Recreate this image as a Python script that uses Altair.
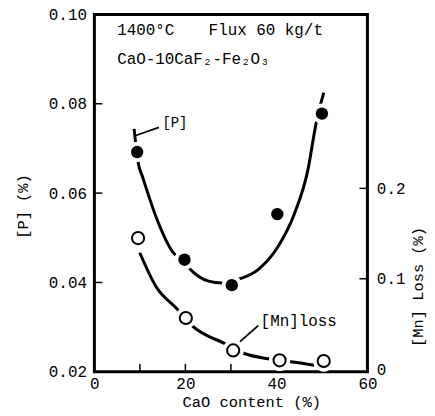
import altair as alt
import pandas as pd

FONT = "Liberation Mono"

# measured points
p_x = [9.4, 19.8, 30.2, 40.2, 50.0]
p_y = [0.0692, 0.0451, 0.0394, 0.0553, 0.0778]
mn_x = [9.6, 20.1, 30.5, 40.7, 50.4]
mn_y = [0.145, 0.0566, 0.0207, 0.0097, 0.009]

# fitted curves
p_curve_x = [8.73, 9.67, 10.6, 13.81, 17.24, 19.64, 20.73, 25.09, 28.0, 31.6, 36.0, 40.4, 44.0, 46.9, 48.7, 50.4]
p_curve_y = [0.0744, 0.0666, 0.0636, 0.0540, 0.0468, 0.0446, 0.0433, 0.0403, 0.0399, 0.0407, 0.0429, 0.0481, 0.0555, 0.0651, 0.0755, 0.0825]
mn_curve_x = [9.97, 13.46, 18.18, 21.45, 28.74, 33.1, 38.18, 43.6, 48.4]
mn_curve_y = [0.1288, 0.0921, 0.0665, 0.0481, 0.028, 0.017, 0.0115, 0.0079, 0.0042]

x_labels = [0, 20, 40, 60]
x_ticks = [10, 20, 30, 40, 50]
p_labels = [0.02, 0.04, 0.06, 0.08, 0.10]
p_ticks = [0.04, 0.06, 0.08]
mn_labels = [0, 0.1, 0.2]
mn_ticks = [0.1, 0.2]

W, H = 275, 360
TL = 8  # inward tick length

xs = alt.Scale(domain=[0, 60], nice=False, zero=False)
ps = alt.Scale(domain=[0.02, 0.10], nice=False, zero=False)
ms = alt.Scale(domain=[-0.003, 0.3925], nice=False, zero=False)

x_axis = alt.Axis(values=x_labels, labelFlush=False, labelPadding=4,
                  title="CaO content (%)", titleX=158, titleY=30,
                  titleBaseline="middle", titleAlign="center")
p_axis = alt.Axis(values=p_labels, format=".2f", labelPadding=8,
                  title="[P] (%)", titleX=-72, titleY=193,
                  titleAngle=-90, titleBaseline="middle", titleAlign="center")
mn_axis = alt.Axis(orient="right", values=mn_labels, labelPadding=9,
                   labelExpr="datum.value == 0 ? '0' : format(datum.value, '.1f')",
                   title="[Mn] Loss (%)", titleX=50, titleY=274,
                   titleAngle=-90, titleBaseline="middle", titleAlign="center")

X = alt.X("x:Q", scale=xs, axis=x_axis)
X2 = alt.X2("x2:Q")
YP = alt.Y("y:Q", scale=ps, axis=p_axis)
YM = alt.Y("y:Q", scale=ms, axis=mn_axis)

p_pts = pd.DataFrame({"x": p_x, "y": p_y})
mn_pts = pd.DataFrame({"x": mn_x, "y": mn_y})
p_curve = pd.DataFrame({"x": p_curve_x, "y": p_curve_y, "o": range(len(p_curve_x))})
mn_curve = pd.DataFrame({"x": mn_curve_x, "y": mn_curve_y, "o": range(len(mn_curve_x))})

# ---------- P group ----------
p_line = alt.Chart(p_curve).mark_line(color="black", strokeWidth=3, interpolate="monotone").encode(
    x=X, y=YP, order="o:Q")
p_halo = alt.Chart(p_pts).mark_circle(color="white", opacity=1, size=420).encode(x=X, y=YP)
p_mark = alt.Chart(p_pts).mark_circle(color="black", opacity=1, size=155).encode(x=X, y=YP)

hdr1 = pd.DataFrame({"x": [5.0], "y": [0.0964], "t": ["1400°C"]})
hdr2 = pd.DataFrame({"x": [25.1], "y": [0.0964], "t": ["Flux 60 kg/t"]})
hdr3 = pd.DataFrame({"x": [5.0], "y": [0.0900], "t": ["CaO-10CaF₂-Fe₂O₃"]})
plab = pd.DataFrame({"x": [17.7], "y": [0.0756], "t": ["[P]"]})


def txt(df, Y, size=16, align="left"):
    return alt.Chart(df).mark_text(font=FONT, fontSize=size, align=align, baseline="middle",
                                   color="black").encode(x=X, y=Y, text="t:N")


p_lead = pd.DataFrame({"x": [9.09], "y": [0.0729], "x2": [14.18], "y2": [0.0747]})
p_lead_m = alt.Chart(p_lead).mark_rule(color="black", strokeWidth=1.8).encode(
    x=X, y=YP, x2=X2, y2=alt.Y2("y2:Q"))

left_ticks = alt.Chart(pd.DataFrame({"y": p_ticks})).mark_rule(color="black", strokeWidth=1.5).encode(
    y=YP, x=alt.value(0), x2=alt.value(TL))
bottom_ticks = alt.Chart(pd.DataFrame({"x": x_ticks})).mark_rule(color="black", strokeWidth=1.5).encode(
    x=X, y=alt.value(H - TL), y2=alt.value(H))

p_group = alt.layer(p_line, p_halo, p_mark, txt(hdr1, YP), txt(hdr2, YP), txt(hdr3, YP),
                    txt(plab, YP, size=14, align="center"), p_lead_m, left_ticks, bottom_ticks)

# ---------- Mn group ----------
mn_line = alt.Chart(mn_curve).mark_line(color="black", strokeWidth=3, interpolate="monotone").encode(
    x=X, y=YM, order="o:Q")
mn_halo = alt.Chart(mn_pts).mark_circle(color="white", opacity=1, size=460).encode(x=X, y=YM)
mn_mark = alt.Chart(mn_pts).mark_point(shape="circle", filled=True, fill="white", stroke="black",
                                       strokeWidth=2, size=150, opacity=1).encode(x=X, y=YM)
mnlab = pd.DataFrame({"x": [44.9], "y": [0.0527], "t": ["[Mn]loss"]})
mn_text = txt(mnlab, YM, size=16, align="center")
mn_lead = pd.DataFrame({"x": [32.0], "y": [0.0305], "x2": [36.0], "y2": [0.0481]})
mn_lead_m = alt.Chart(mn_lead).mark_rule(color="black", strokeWidth=1.8).encode(
    x=X, y=YM, x2=X2, y2=alt.Y2("y2:Q"))
right_ticks = alt.Chart(pd.DataFrame({"y": mn_ticks})).mark_rule(color="black", strokeWidth=1.5).encode(
    y=YM, x=alt.value(W - TL), x2=alt.value(W))

mn_group = alt.layer(mn_line, mn_halo, mn_mark, mn_text, mn_lead_m, right_ticks)

chart = alt.layer(p_group, mn_group).resolve_scale(y="independent").properties(
    width=W, height=H,
    autosize=alt.AutoSizeParams(type="none"),
    padding={"left": 87, "top": 5, "right": 60, "bottom": 40},
    background="white",
).configure_view(
    stroke="black", strokeWidth=3,
).configure_axis(
    grid=False, ticks=False, domain=False,
    labelFont=FONT, labelFontSize=16, labelColor="black",
    titleFont=FONT, titleFontSize=15.5, titleFontWeight="normal", titleColor="black",
)

chart.save("out.html", embed_options={"renderer": "svg", "actions": False})
